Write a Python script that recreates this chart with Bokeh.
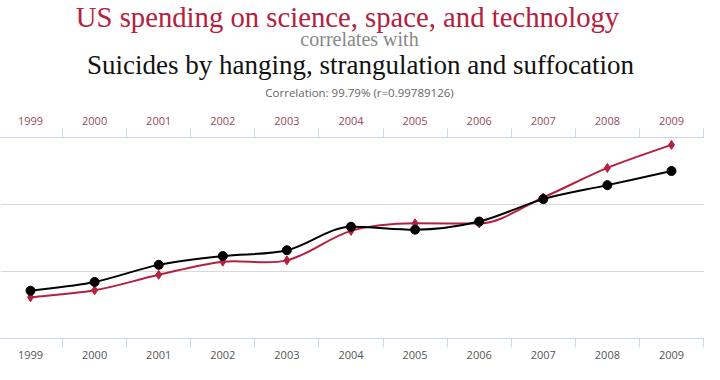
from bokeh.plotting import figure
from bokeh.layouts import column
from bokeh.models import Range1d, LinearAxis, FixedTicker
from bokeh.core.properties import value
from bokeh.embed import file_html
from bokeh.resources import INLINE

years = [1999, 2000, 2001, 2002, 2003, 2004, 2005, 2006, 2007, 2008, 2009]
spending = [18079, 18594, 19753, 20734, 20831, 23029, 23597, 23584, 25525, 27731, 29449]
suicides = [5427, 5688, 6198, 6462, 6635, 7336, 7248, 7491, 8161, 8578, 9000]
year_labels = [str(y) for y in years]

title_1 = "US spending on science, space, and technology"
title_2 = "correlates with"
title_3 = "Suicides by hanging, strangulation and suffocation"
title_4 = "Correlation: 99.79% (r=0.99789126)"

RED = "#b5203e"
BLACK = "#000000"

# ---------- header with the titles ----------
HEAD_H = 105
head = figure(width=704, height=HEAD_H, output_backend="svg", toolbar_location=None,
              x_range=Range1d(0, 704), y_range=Range1d(HEAD_H, 0),
              x_axis_type=None, y_axis_type=None, min_border=0, title=None)
head.outline_line_color = None
head.grid.visible = False

def add_text(txt, sx, sy, font, size, color):
    head.text(x=[sx], y=[sy], text=[txt], text_font=value(font),
              text_font_size=value(size), text_color=color,
              text_align="center", text_baseline="middle")

add_text(title_1, 347, 16, "Liberation Serif", "28.7px", RED)
add_text(title_2, 359, 38, "Liberation Serif", "20px", "#888888")
add_text(title_3, 360, 64, "Liberation Serif", "27px", "#111111")
add_text(title_4, 359, 92, "Open Sans", "11.5px", "#666666")

# ---------- chart ----------
p = figure(width=704, height=364 - HEAD_H, output_backend="svg", toolbar_location=None,
           x_range=Range1d(1998.532, 2009.515), y_range=Range1d(15000, 30000),
           min_border_left=0, min_border_right=0, min_border_top=137 - HEAD_H,
           min_border_bottom=26, title=None)
p.extra_y_ranges = {"suic": Range1d(4000, 10000)}
p.outline_line_color = None

p.yaxis.visible = False
p.ygrid.ticker = FixedTicker(ticks=[15000, 20000, 25000, 30000])
p.ygrid.grid_line_color = "#d8d8d8"
p.xgrid.grid_line_color = None

minor = [y + 0.5 for y in years] + [years[0] - 0.5]
ticker = FixedTicker(ticks=years, minor_ticks=minor)

def style_axis(ax, color, standoff):
    ax.ticker = ticker
    ax.major_label_overrides = {y: l for y, l in zip(years, year_labels)}
    ax.axis_line_color = "#ccd6eb"
    ax.major_tick_line_color = None
    ax.major_tick_out = 0
    ax.major_tick_in = 0
    ax.minor_tick_line_color = "#ccd6eb"
    ax.minor_tick_in = 0
    ax.minor_tick_out = 9
    ax.major_label_text_font = "Open Sans"
    ax.major_label_text_font_size = "11px"
    ax.major_label_text_color = color
    ax.major_label_standoff = standoff

style_axis(p.xaxis[0], "#555555", 3)

top_axis = LinearAxis()
style_axis(top_axis, "#9a4a5a", 4)
p.add_layout(top_axis, "above")

def smooth(xs, ys):
    # cubic bezier control points computed from the data points
    x0, y0, x1, y1, cx0, cy0, cx1, cy1 = [], [], [], [], [], [], [], []
    n = len(xs)
    t = 1.0 / 3.0
    for i in range(n - 1):
        xp, yp = (xs[i - 1], ys[i - 1]) if i > 0 else (xs[i], ys[i])
        xn2, yn2 = (xs[i + 2], ys[i + 2]) if i + 2 < n else (xs[i + 1], ys[i + 1])
        sx0 = (xs[i + 1] - xp) / 2.0
        sy0 = (ys[i + 1] - yp) / 2.0
        sx1 = (xn2 - xs[i]) / 2.0
        sy1 = (yn2 - ys[i]) / 2.0
        d = ys[i + 1] - ys[i]
        if i > 0 and (ys[i] - ys[i - 1]) * d <= 0:
            sy0 = 0.0
        if i + 2 < n and (ys[i + 2] - ys[i + 1]) * d <= 0:
            sy1 = 0.0
        x0.append(xs[i]); y0.append(ys[i])
        x1.append(xs[i + 1]); y1.append(ys[i + 1])
        cx0.append(xs[i] + sx0 * t); cy0.append(ys[i] + sy0 * t)
        cx1.append(xs[i + 1] - sx1 * t); cy1.append(ys[i + 1] - sy1 * t)
    return dict(x0=x0, y0=y0, x1=x1, y1=y1, cx0=cx0, cy0=cy0, cx1=cx1, cy1=cy1)

s1 = smooth(years, spending)
p.bezier(line_color=RED, line_width=2, **s1)
p.scatter(years, spending, marker="diamond", size=9, color=RED)

s2 = smooth(years, suicides)
p.bezier(line_color=BLACK, line_width=2, y_range_name="suic", **s2)
p.scatter(years, suicides, marker="circle", size=9, color=BLACK, y_range_name="suic")

layout = column(head, p, spacing=0)
open("out.html", "w").write(file_html(layout, INLINE))
